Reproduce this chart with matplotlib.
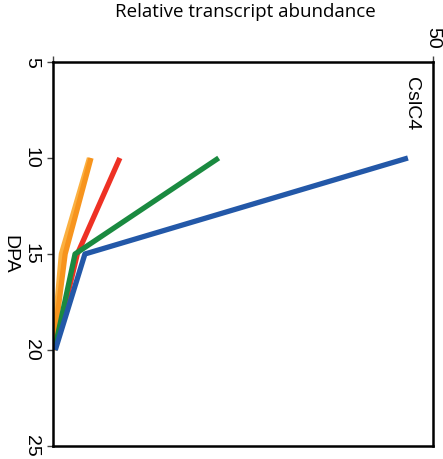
import matplotlib.pyplot as plt

plt.rcParams['font.family'] = ['Liberation Sans', 'DejaVu Sans']

dpa = [20, 15, 10]
yellow = [0.0, 1.1, 4.8]
orange = [0.0, 1.6, 5.0]
red = [0.2, 3.2, 8.8]
green = [0.2, 2.9, 21.8]
blue = [0.3, 4.2, 46.7]

dpa_ticks = [5, 10, 15, 20, 25]
top_ticks = [0, 50]
top_labels = ['', '50']

fig = plt.figure(figsize=(4.43, 4.59), dpi=100)
ax = fig.add_axes([53/443, 13/459, 380/443, 384/459])

ax.plot(yellow, dpa, color='#FBB040', lw=3.8, solid_capstyle='butt')
ax.plot(orange, dpa, color='#F7941D', lw=3.8, solid_capstyle='butt')
ax.plot(red, dpa, color='#EE3124', lw=3.8, solid_capstyle='butt')
ax.plot(green, dpa, color='#1A8A40', lw=3.8, solid_capstyle='butt')
ax.plot(blue, dpa, color='#2358A8', lw=3.8, solid_capstyle='butt')

ax.set_xlim(0, 50)
ax.set_ylim(25, 5)

for s in ax.spines.values():
    s.set_linewidth(1.8)

ax.xaxis.tick_top()
ax.set_xticks(top_ticks)
ax.set_xticklabels(top_labels, rotation=-90, fontsize=14)
ax.set_yticks(dpa_ticks)
ax.set_yticklabels([str(t) for t in dpa_ticks], rotation=-90, fontsize=14, va='center')
ax.tick_params(direction='out', length=4.5, width=1, color='#444444', pad=5)

ax.text(0.965, 0.96, 'CslC4', transform=ax.transAxes, rotation=-90,
        fontsize=14, ha='right', va='top')
fig.text(10/443, 1 - 254/459, 'DPA', rotation=-90,
         fontsize=14, ha='center', va='center')
fig.text(245/443, 1 - 12/459, 'Relative transcript abundance',
         family=['Open Sans', 'DejaVu Sans'], fontsize=13.5, ha='center', va='center')

fig.savefig('out.png', dpi=100)
